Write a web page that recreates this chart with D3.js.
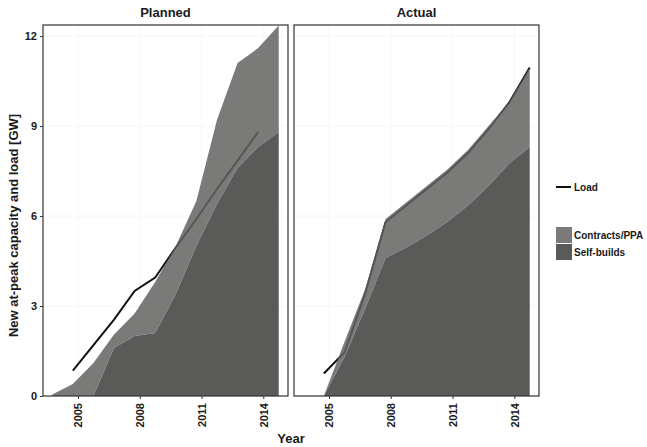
<!DOCTYPE html>
<html>
<head>
<meta charset="utf-8">
<script src="https://cdn.jsdelivr.net/npm/d3@7"></script>
<style>
  body { margin: 0; background: #fff; }
  text { font-family: "Liberation Sans", Arial, sans-serif; fill: #1a1a1a; }
</style>
</head>
<body>
<script>
// periods are fiscal-year points (plotted at year + 0.75)
const periods = [2003.75, 2004.75, 2005.75, 2006.75, 2007.75, 2008.75, 2009.75, 2010.75, 2011.75, 2012.75, 2013.75, 2014.75];

const plannedSelf = [0, 0, 0, 1.6, 2.0, 2.1, 3.4, 5.0, 6.4, 7.6, 8.3, 8.8];
const plannedContracts = [0.05, 0.4, 1.1, 0.45, 0.75, 1.7, 1.6, 1.5, 2.8, 3.5, 3.3, 3.55];
const plannedLoad = [null, 0.85, 1.7, 2.55, 3.5, 3.95, 4.95, 5.9, 6.9, 7.85, 8.8, null];

const actualSelf = [0, 0, 1.3, 2.9, 4.6, 4.95, 5.35, 5.8, 6.35, 7.0, 7.75, 8.3];
const actualContracts = [0, 0, 0.5, 0.65, 1.3, 1.5, 1.65, 1.75, 1.85, 2.0, 2.05, 2.65];
const actualLoad = [null, 0.75, 1.45, 3.4, 5.8, 6.35, 6.9, 7.45, 8.1, 8.9, 9.78, 10.95];

const facets = ["Planned", "Actual"];
const xTicks = [2005, 2008, 2011, 2014];
const yTicks = [0, 3, 6, 9, 12];

const colors = { "Contracts/PPA": "#636362", "Self-builds": "#3d3d3c" };
const areaOpacity = 0.85;

const W = 647, H = 447;
const panelTop = 25, panelBottom = 396, panelW = 245, gap = 6, left0 = 43;

const svg = d3.select("body").append("svg").attr("width", W).attr("height", H);

const y = d3.scaleLinear().domain([0, 12.37]).range([panelBottom, panelTop]);

const panels = [
  { name: facets[0], self: plannedSelf, contracts: plannedContracts, load: plannedLoad },
  { name: facets[1], self: actualSelf, contracts: actualContracts, load: actualLoad }
];

const stack = d3.stack().keys(["Self-builds", "Contracts/PPA"]);

panels.forEach((p, i) => {
  const x0 = left0 + i * (panelW + gap);
  const x = d3.scaleLinear().domain([2003.3, 2015.2]).range([x0, x0 + panelW]);
  const g = svg.append("g");

  // very faint grid
  g.selectAll(".gy").data(yTicks).enter().append("line")
    .attr("x1", x0).attr("x2", x0 + panelW)
    .attr("y1", d => y(d)).attr("y2", d => y(d))
    .attr("stroke", "#f6f6f6").attr("stroke-width", 1);
  g.selectAll(".gx").data(xTicks).enter().append("line")
    .attr("x1", d => x(d)).attr("x2", d => x(d))
    .attr("y1", panelTop).attr("y2", panelBottom)
    .attr("stroke", "#f6f6f6").attr("stroke-width", 1);

  // load line drawn first, areas are semi-transparent on top of it
  const loadData = periods.map((t, k) => ({ t, v: p.load[k] }));
  g.append("path")
    .datum(loadData)
    .attr("fill", "none")
    .attr("stroke", "#111")
    .attr("stroke-width", 2)
    .attr("d", d3.line().defined(d => d.v != null).x(d => x(d.t)).y(d => y(d.v)));

  const rows = periods.map((t, k) => ({ t, "Self-builds": p.self[k], "Contracts/PPA": p.contracts[k] }));
  const series = stack(rows);
  g.selectAll(".area").data(series).enter().append("path")
    .attr("fill", d => colors[d.key])
    .attr("fill-opacity", areaOpacity)
    .attr("d", d3.area().x(d => x(d.data.t)).y0(d => y(d[0])).y1(d => y(d[1])));

  // panel border
  g.append("rect")
    .attr("x", x0).attr("y", panelTop).attr("width", panelW).attr("height", panelBottom - panelTop)
    .attr("fill", "none").attr("stroke", "#333").attr("stroke-width", 1.2);

  // strip title
  g.append("text")
    .attr("x", x0 + panelW / 2).attr("y", 17)
    .attr("text-anchor", "middle")
    .attr("font-size", 13).attr("font-weight", "bold")
    .text(p.name);

  // x axis
  const xa = g.append("g").attr("transform", `translate(0,${panelBottom})`)
    .call(d3.axisBottom(x).tickValues(xTicks).tickSize(3).tickFormat(d3.format("d")));
  xa.select(".domain").remove();
  xa.selectAll("line").attr("stroke", "#333");
  xa.selectAll("text")
    .attr("transform", "rotate(-90)")
    .attr("x", -7).attr("y", 0).attr("dy", "0.35em")
    .attr("text-anchor", "end")
    .attr("font-size", 11).attr("font-weight", "bold")
    .attr("font-family", "Liberation Sans, Arial, sans-serif")
    .attr("fill", "#1a1a1a");

  if (i === 0) {
    const ya = g.append("g").attr("transform", `translate(${x0},0)`)
      .call(d3.axisLeft(y).tickValues(yTicks).tickSize(3));
    ya.select(".domain").remove();
    ya.selectAll("line").attr("stroke", "#333");
    ya.selectAll("text")
      .attr("font-size", 11).attr("font-weight", "bold")
      .attr("font-family", "Liberation Sans, Arial, sans-serif")
      .attr("fill", "#1a1a1a");
  }
});

// axis titles
svg.append("text")
  .attr("x", 291).attr("y", 443)
  .attr("text-anchor", "middle")
  .attr("font-size", 13).attr("font-weight", "bold")
  .text("Year");

svg.append("text")
  .attr("transform", `translate(18,${(panelTop + panelBottom) / 2 + 15}) rotate(-90)`)
  .attr("text-anchor", "middle")
  .attr("font-size", 13).attr("font-weight", "bold")
  .text("New at-peak capacity and load [GW]");

// legend
const lg = svg.append("g");
lg.append("line")
  .attr("x1", 556).attr("x2", 571).attr("y1", 187).attr("y2", 187)
  .attr("stroke", "#111").attr("stroke-width", 2);
lg.append("text").attr("x", 574).attr("y", 187).attr("dy", "0.35em")
  .attr("font-size", 10).attr("font-weight", "bold").text("Load");

const legendKeys = ["Contracts/PPA", "Self-builds"];
lg.selectAll(".key").data(legendKeys).enter().append("rect")
  .attr("x", 556).attr("y", (d, k) => 227 + k * 17)
  .attr("width", 16).attr("height", 16)
  .attr("fill", d => colors[d]).attr("fill-opacity", areaOpacity);
lg.selectAll(".lab").data(legendKeys).enter().append("text")
  .attr("x", 574).attr("y", (d, k) => 235 + k * 17).attr("dy", "0.35em")
  .attr("font-size", 10).attr("font-weight", "bold")
  .text(d => d);
</script>
</body>
</html>
